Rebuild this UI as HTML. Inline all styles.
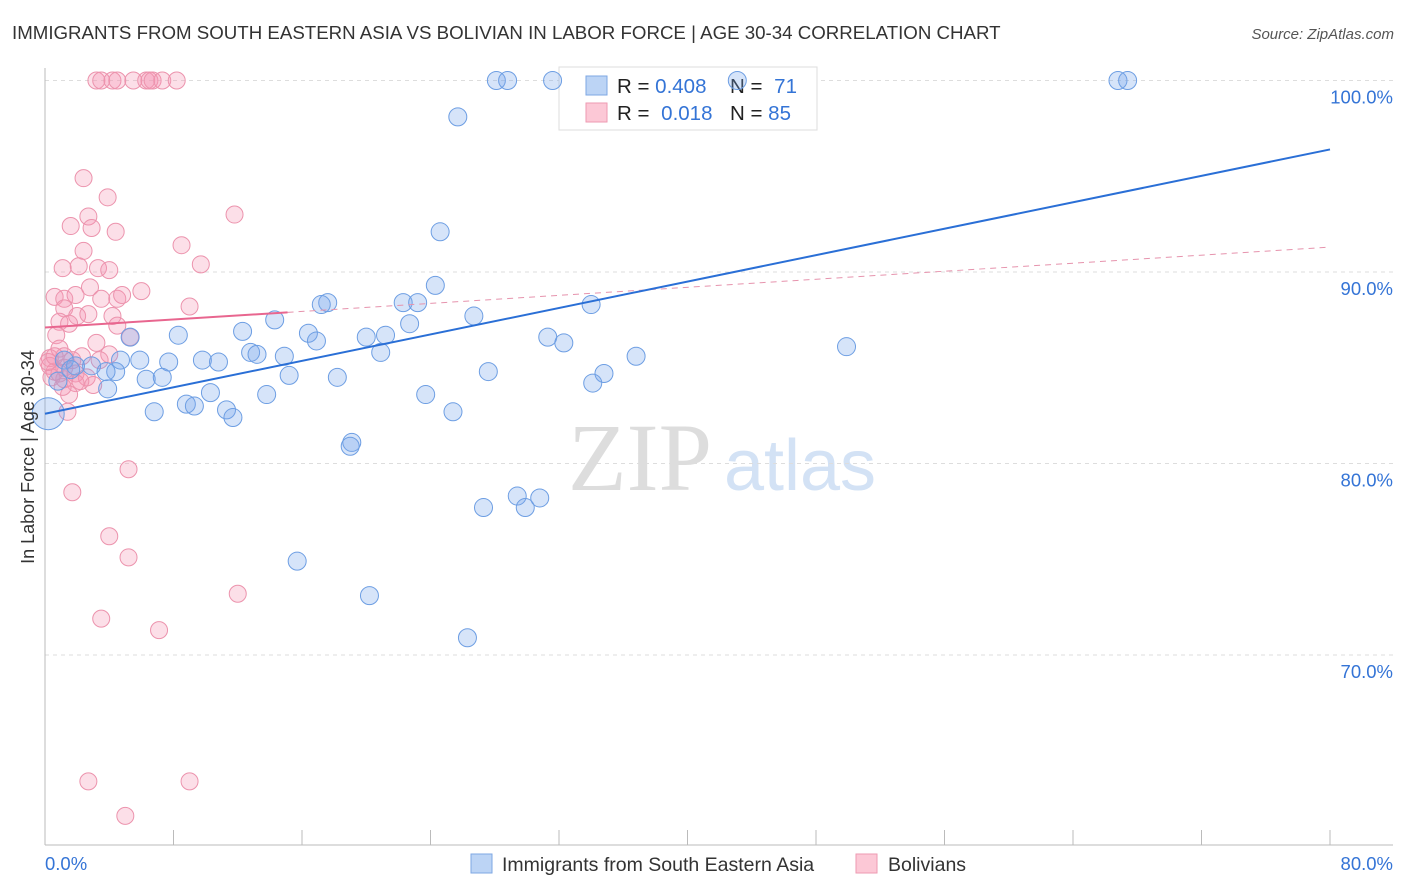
<!DOCTYPE html>
<html><head><meta charset="utf-8"><style>
body{margin:0;background:#fff;font-family:"Liberation Sans",sans-serif;}
svg{display:block}
</style></head><body>
<svg id="chart" width="1406" height="892" xmlns="http://www.w3.org/2000/svg">
<text x="12" y="39" font-size="18.7" fill="#333">IMMIGRANTS FROM SOUTH EASTERN ASIA VS BOLIVIAN IN LABOR FORCE | AGE 30-34 CORRELATION CHART</text>
<text x="1394" y="39" font-size="15" fill="#555" font-style="italic" text-anchor="end">Source: ZipAtlas.com</text>
<text x="640" y="490" font-size="96" fill="#ddd" font-family="Liberation Serif,serif" text-anchor="middle">ZIP</text>
<text x="800" y="490" font-size="72" fill="#d3e2f5" text-anchor="middle">atlas</text>
<g id="grid"></g>
<g id="axes"></g>
<g>
<rect x="559" y="67" width="258" height="63" fill="#fff" stroke="#ddd"/>
<rect x="586" y="76" width="21" height="19" fill="#bcd4f5" stroke="#7ea7e3"/>
<rect x="586" y="103" width="21" height="19" fill="#fcc8d6" stroke="#ee9ab2"/>
<text x="617" y="93" font-size="20.5" fill="#222">R = <tspan fill="#3474d6">0.408</tspan></text>
<text x="730" y="93" font-size="20.5" fill="#222">N = <tspan fill="#3474d6" dx="6">71</tspan></text>
<text x="617" y="120" font-size="20.5" fill="#222">R = <tspan fill="#3474d6" dx="6">0.018</tspan></text>
<text x="730" y="120" font-size="20.5" fill="#222">N = <tspan fill="#3474d6">85</tspan></text>
</g>
<g id="pink"></g>
<g id="blue"></g>
<g id="lines"></g>
<text transform="translate(34,457) rotate(-90)" font-size="18" fill="#333" text-anchor="middle">In Labor Force | Age 30-34</text>
<g>
<rect x="471" y="854" width="21" height="19" fill="#bcd4f5" stroke="#7ea7e3"/>
<text x="502" y="871" font-size="19.5" fill="#333">Immigrants from South Eastern Asia</text>
<rect x="856" y="854" width="21" height="19" fill="#fcc8d6" stroke="#ee9ab2"/>
<text x="888" y="871" font-size="19.5" fill="#333">Bolivians</text>
</g>
</svg>
<script>
const blueX=[28.1,28.8,31.6,43.1,66.8,67.4,25.7,24.6,24.3,22.3,23.2,17.6,17.2,14.3,22.7,26.7,34.0,8.3,12.3,16.4,16.9,20.0,21.2,20.9,31.3,32.3,36.8,49.9,12.8,13.2,14.9,5.3,4.7,5.9,7.7,9.8,10.8,4.4,1.2,1.9,2.9,3.8,6.3,7.3,15.2,18.2,27.6,34.8,34.1,3.9,10.3,13.8,23.7,6.8,8.8,9.3,11.3,11.7,25.4,19.1,19.0,0.2,27.3,29.4,29.9,30.8,15.7,20.2,26.3,0.8,1.6];
const blueY=[100,100,100,100,100,100,98.1,92.1,89.3,88.4,88.4,88.4,88.3,87.5,87.3,87.7,88.3,86.7,86.9,86.8,86.4,86.6,86.7,85.8,86.6,86.3,85.6,86.1,85.8,85.7,85.6,86.6,85.4,85.4,85.3,85.4,85.3,84.8,85.4,85.1,85.1,84.8,84.4,84.5,84.6,84.5,84.8,84.7,84.2,83.9,83.7,83.6,83.6,82.7,83.1,83.0,82.8,82.4,82.7,81.1,80.9,82.6,77.7,78.3,77.7,78.2,74.9,73.1,70.9,84.3,84.9];
const pinkX=[3.2,3.5,4.2,4.5,5.5,6.3,6.5,6.7,7.3,8.2,2.4,3.9,11.8,2.7,1.6,2.9,4.4,8.5,2.4,1.1,9.7,2.1,3.3,4.0,0.6,1.2,2.8,6.0,1.9,3.5,4.5,4.8,1.2,2.0,2.7,4.2,9.0,0.9,1.5,0.7,4.5,5.3,3.2,0.9,2.3,1.2,0.3,0.3,0.6,1.2,1.9,2.6,3.0,1.9,2.2,1.2,1.5,0.4,0.9,0.2,1.4,4.0,1.7,5.2,4.0,5.2,12.0,3.5,7.1,2.7,9.0,5.0,0.6,1.7,1.1,3.4];
const pinkY=[100,100,100,100,100,100,100,100,100,100,94.9,93.9,93.0,92.9,92.4,92.3,92.1,91.4,91.1,90.2,90.4,90.3,90.2,90.1,88.7,88.6,89.2,89.0,88.8,88.6,88.6,88.8,88.1,87.7,87.8,87.7,88.2,87.4,87.3,86.7,87.2,86.6,86.3,86.0,85.6,85.6,85.5,85.1,84.8,85.0,84.7,84.5,84.1,84.2,84.3,84.4,83.6,84.5,84.7,85.3,82.7,85.7,78.5,79.7,76.2,75.1,73.2,71.9,71.3,63.4,63.4,61.6,85.6,85.4,84.0,85.4];
const blueTrend=[82.6,96.4];
const pinkTrend=[87.1,91.3];
const pinkSolidEnd=15.1;
const yTicks=[100,90,80,70];
const xTicks=[0,8,16,24,32,40,48,56,64,72,80];
const NS='http://www.w3.org/2000/svg';
const sx=v=>45+v*(1285/80);
const sy=v=>80.5+(100-v)*19.15;
function mk(tag,attrs,parent){const e=document.createElementNS(NS,tag);for(const k in attrs)e.setAttribute(k,attrs[k]);parent.appendChild(e);return e;}
const grid=document.getElementById('grid'),axes=document.getElementById('axes');
yTicks.forEach(t=>{
 const l=mk('line',{x1:45,x2:1393,y1:sy(t),y2:sy(t),stroke:'#ddd','stroke-dasharray':'4,4'},grid);
 
 
 const tx=mk('text',{x:1393,y:sy(t)+23,'font-size':18.5,fill:'#3474d6','text-anchor':'end'},axes);
 tx.textContent=t.toFixed(1)+'%';
 
 
});
const ax=mk('line',{x1:45,x2:1393,y1:845,y2:845,stroke:'#bbb'},axes);


const ay=mk('line',{x1:45,x2:45,y1:68,y2:845,stroke:'#bbb'},axes);


xTicks.forEach(t=>{
 const l=mk('line',{x1:sx(t),x2:sx(t),y1:830,y2:845,stroke:'#bbb'},axes);
 
 
});
[[0,45,'start'],[80,1393,'end']].forEach(([v,x,a])=>{
 const tx=mk('text',{x:x,y:870,'font-size':18.5,fill:'#3474d6','text-anchor':a},axes);
 tx.textContent=v.toFixed(1)+'%';
 
 
});
const pg=document.getElementById('pink');
pinkX.forEach((x,i)=>{
 const c=mk('circle',{cx:sx(x),cy:sy(pinkY[i]),r:8.5,fill:'rgba(244,150,178,0.3)',stroke:'#ec93ad','stroke-width':1},pg);
 
 
});
const bg=document.getElementById('blue');
blueX.forEach((x,i)=>{
 const c=mk('circle',{cx:sx(x),cy:sy(blueY[i]),r:(i===61?16:9),fill:'rgba(120,165,235,0.3)',stroke:'#6d9ee3','stroke-width':1},bg);
 
 
});
const lg=document.getElementById('lines');
const pAt=x=>pinkTrend[0]+(pinkTrend[1]-pinkTrend[0])*x/80;
const pd=mk('line',{x1:sx(pinkSolidEnd),y1:sy(pAt(pinkSolidEnd)),x2:sx(80),y2:sy(pinkTrend[1]),stroke:'#e693ad','stroke-width':1,'stroke-dasharray':'6,5'},lg);


const ps=mk('line',{x1:sx(0),y1:sy(pinkTrend[0]),x2:sx(pinkSolidEnd),y2:sy(pAt(pinkSolidEnd)),stroke:'#e8668f','stroke-width':2},lg);


const bl=mk('line',{x1:sx(0),y1:sy(blueTrend[0]),x2:sx(80),y2:sy(blueTrend[1]),stroke:'#2a6fd6','stroke-width':2},lg);


</script>
</body></html>
